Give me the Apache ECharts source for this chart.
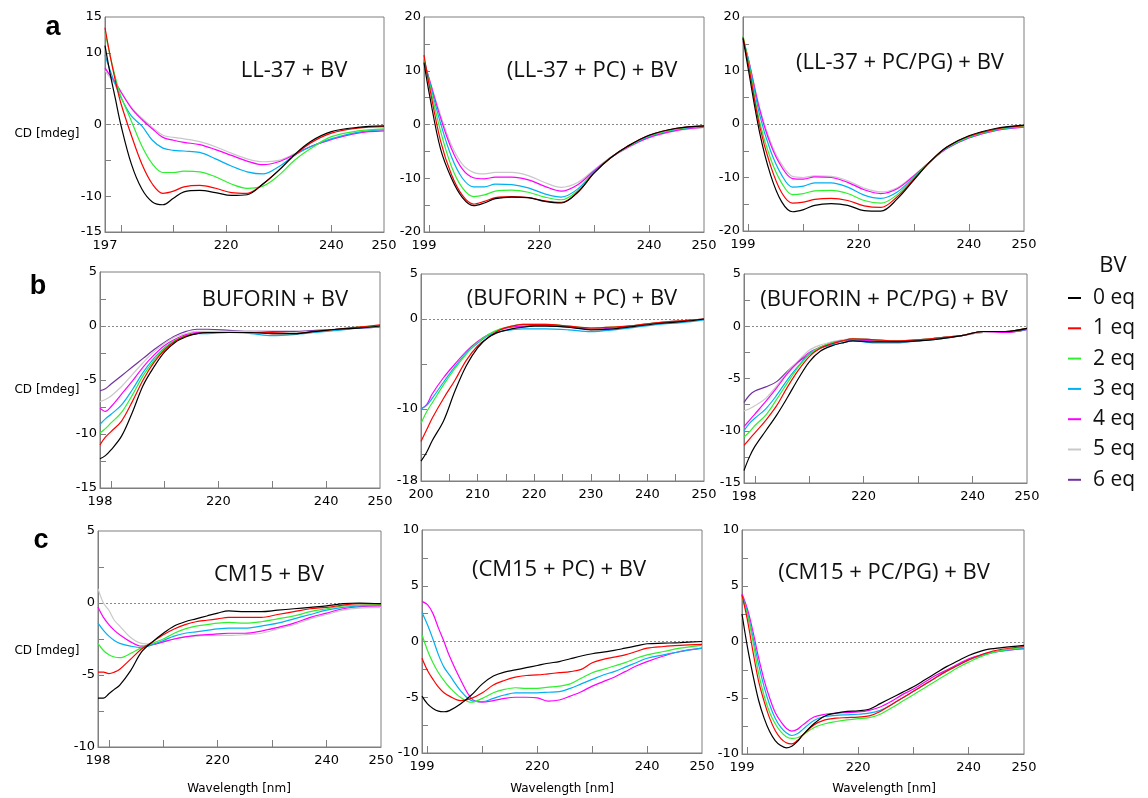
<!DOCTYPE html>
<html><head><meta charset="utf-8">
<script src="https://cdn.jsdelivr.net/npm/echarts@6/dist/echarts.min.js"></script>
<style>html,body{margin:0;padding:0;background:#fff}#c{width:1148px;height:798px}</style>
</head><body><div id="c"></div>
<script>
// ---------- DATA ----------
const eqNames = ['0 eq','1 eq','2 eq','3 eq','4 eq','5 eq','6 eq'];
const eqColors = ['#000000','#ff0000','#2ef02e','#00b0f0','#ff00ff','#c8c8c8','#7030a0'];

const panelTitles = ['LL-37 + BV','(LL-37 + PC) + BV','(LL-37 + PC/PG) + BV',
  'BUFORIN + BV','(BUFORIN + PC) + BV','(BUFORIN + PC/PG) + BV',
  'CM15 + BV','(CM15 + PC) + BV','(CM15 + PC/PG) + BV'];

// row a
const a1Wl = [197,198,199,200,202,204,206,208,210,212,215,218,221,224,227,230,233,236,240,245,250];
const a1Cd = [
  [11,7,3.5,0,-5.5,-9,-10.8,-11.2,-10.3,-9.4,-9.2,-9.5,-9.9,-9.8,-8.3,-6.4,-4.2,-2.4,-1.0,-0.4,-0.2],
  [13.5,9.5,6,3,-1.5,-5.5,-8.3,-9.6,-9.3,-8.7,-8.5,-8.9,-9.5,-9.6,-8.3,-6.4,-4.3,-2.6,-1.2,-0.5,-0.3],
  [13,9.5,6.5,4,0.5,-3,-5.5,-6.7,-6.7,-6.5,-6.6,-7.3,-8.3,-8.9,-8.6,-7.1,-5.0,-3.4,-1.7,-0.9,-0.6],
  [9.7,7.5,5.5,3.8,1.2,-0.2,-2.2,-3.3,-3.6,-3.7,-3.9,-4.8,-5.8,-6.6,-6.9,-5.9,-4.3,-3.1,-2.0,-1.1,-0.7],
  [7.9,6.8,5.8,4.6,2.3,0.7,-0.6,-1.8,-2.2,-2.5,-2.8,-3.5,-4.3,-5.1,-5.6,-5.2,-4.2,-3.1,-2.1,-1.2,-0.9],
  [7.5,6.5,5.6,4.5,2.4,0.9,-0.4,-1.5,-1.8,-2.0,-2.4,-3.1,-4.0,-4.8,-5.2,-5.0,-4.1,-3.1,-2.0,-1.1,-0.8]
];
const a2Wl = [199,200,202,204,206,208,210,212,215,218,221,224,227,230,233,236,240,245,250];
const a2Cd = [
  [11.5,5.5,-4.5,-10,-13.6,-15.1,-14.6,-13.8,-13.5,-13.6,-14.3,-14.6,-12.6,-9.0,-6.2,-4.1,-2.0,-0.7,-0.25],
  [12.9,7,-3,-9.3,-13.2,-14.8,-14.3,-13.6,-13.4,-13.6,-14.2,-14.5,-12.6,-9.0,-6.2,-4.1,-2.0,-0.7,-0.3],
  [12,7.5,-1.2,-7.8,-11.8,-13.4,-13.1,-12.4,-12.2,-12.6,-13.5,-14.0,-12.3,-8.9,-6.2,-4.2,-2.1,-0.8,-0.3],
  [12.2,8,0.3,-6,-10,-11.6,-11.6,-11.1,-11.2,-11.8,-12.9,-13.5,-12.0,-8.8,-6.2,-4.2,-2.2,-0.9,-0.4],
  [11.8,8.3,1.3,-4.5,-8.3,-9.9,-10.1,-9.8,-9.8,-10.3,-11.5,-12.4,-11.2,-8.6,-6.2,-4.3,-2.4,-1.1,-0.5],
  [11.5,8.3,1.8,-3.8,-7.4,-8.9,-9.2,-8.9,-8.9,-9.5,-10.8,-11.7,-10.8,-8.4,-6.1,-4.4,-2.5,-1.2,-0.6]
];
const a3Wl = [199,200,202,204,206,208,210,212,215,218,221,224,227,230,233,236,240,245,250];
const a3Cd = [
  [16,10,-1.5,-9.5,-14.5,-16.4,-16.0,-15.2,-14.9,-15.2,-16.2,-16.3,-14.0,-10.5,-7.0,-4.3,-2.2,-0.8,-0.2],
  [16.3,11,-0.3,-7.8,-12.8,-14.8,-14.6,-14.1,-13.9,-14.3,-15.3,-15.6,-13.6,-10.3,-7.0,-4.3,-2.3,-0.9,-0.3],
  [16.5,11.5,0.5,-6.5,-11,-13.2,-13.0,-12.5,-12.4,-13.0,-14.3,-14.8,-13.2,-10.1,-7.0,-4.4,-2.4,-1.0,-0.4],
  [16,12,1.8,-5,-9.5,-11.8,-11.6,-11.0,-11.0,-11.8,-13.3,-13.9,-12.7,-9.9,-7.0,-4.5,-2.5,-1.1,-0.5],
  [15.5,12,2.8,-3.8,-8,-10.2,-10.3,-9.9,-10.0,-10.9,-12.3,-13.0,-12.1,-9.7,-7.0,-4.6,-2.6,-1.2,-0.6],
  [15.5,12,3.1,-3.3,-7.5,-9.8,-10.0,-9.7,-9.8,-10.6,-12.0,-12.7,-11.9,-9.6,-7.0,-4.6,-2.6,-1.2,-0.6]
];

// row b
const b1Wl = [198,199,200,202,204,206,208,210,212,214,216,218,222,226,230,234,238,242,246,250];
const b1Cd = [
  [-12.3,-12.0,-11.5,-10.2,-8.0,-5.5,-3.8,-2.4,-1.5,-1.0,-0.7,-0.6,-0.6,-0.6,-0.7,-0.7,-0.5,-0.3,-0.2,0],
  [-11.0,-10.3,-9.8,-8.8,-7.0,-5.0,-3.4,-2.2,-1.4,-0.9,-0.7,-0.6,-0.6,-0.6,-0.6,-0.7,-0.5,-0.3,-0.1,0.1],
  [-9.9,-9.5,-9.0,-8.0,-6.4,-4.6,-3.2,-2.1,-1.3,-0.9,-0.7,-0.6,-0.6,-0.6,-0.7,-0.7,-0.5,-0.3,-0.1,0],
  [-9.1,-8.6,-8.2,-7.3,-5.9,-4.3,-3.0,-2.0,-1.3,-0.9,-0.7,-0.7,-0.6,-0.7,-0.9,-0.8,-0.6,-0.4,-0.2,-0.1],
  [-7.6,-7.9,-7.5,-6.3,-5.1,-3.8,-2.7,-1.8,-1.2,-0.8,-0.6,-0.6,-0.6,-0.6,-0.7,-0.7,-0.5,-0.3,-0.2,-0.1],
  [-7.0,-6.8,-6.5,-5.6,-4.5,-3.4,-2.4,-1.6,-1.0,-0.7,-0.5,-0.5,-0.5,-0.5,-0.6,-0.6,-0.5,-0.3,-0.2,-0.1],
  [-6.0,-5.8,-5.4,-4.6,-3.8,-3.0,-2.2,-1.5,-0.9,-0.5,-0.3,-0.3,-0.4,-0.5,-0.5,-0.5,-0.4,-0.3,-0.2,-0.1]
];
const b2Wl = [200,201,202,204,206,208,210,212,214,216,218,220,222,226,230,234,238,242,246,250];
const b2Cd = [
  [-15.8,-14.8,-13.5,-11.3,-8.0,-5.2,-3.2,-2.0,-1.4,-1.1,-0.9,-0.8,-0.8,-0.9,-1.2,-1.1,-0.8,-0.5,-0.3,0],
  [-13.6,-12.3,-11.0,-8.8,-6.8,-4.6,-3.0,-2.0,-1.2,-0.8,-0.6,-0.6,-0.6,-0.8,-1.0,-0.9,-0.7,-0.4,-0.2,0],
  [-11.6,-10.3,-9.3,-7.3,-5.5,-3.9,-2.6,-1.7,-1.1,-0.8,-0.6,-0.6,-0.6,-0.8,-1.0,-0.9,-0.7,-0.4,-0.2,0],
  [-10.0,-9.6,-8.8,-7.0,-5.3,-3.8,-2.7,-1.8,-1.4,-1.2,-1.1,-1.1,-1.1,-1.2,-1.4,-1.2,-0.9,-0.6,-0.4,-0.1],
  [-10.0,-9.5,-8.3,-6.5,-5.0,-3.6,-2.5,-1.7,-1.2,-0.9,-0.8,-0.7,-0.7,-0.9,-1.1,-1.0,-0.7,-0.4,-0.2,0]
];
const b3Wl = [198,199,200,202,204,206,208,210,212,214,216,218,222,226,230,234,238,242,246,250];
const b3Cd = [
  [-13.8,-12.5,-11.5,-10.0,-8.5,-6.8,-5.0,-3.4,-2.4,-1.9,-1.6,-1.4,-1.5,-1.5,-1.4,-1.2,-0.9,-0.5,-0.5,-0.2],
  [-11.4,-10.8,-10.2,-9.0,-7.6,-5.8,-4.2,-2.9,-2.1,-1.7,-1.4,-1.2,-1.3,-1.4,-1.3,-1.1,-0.9,-0.5,-0.5,-0.2],
  [-10.6,-10.1,-9.5,-8.5,-7.0,-5.4,-3.9,-2.7,-2.0,-1.6,-1.4,-1.2,-1.3,-1.4,-1.3,-1.1,-0.9,-0.5,-0.5,-0.2],
  [-10.0,-9.3,-8.8,-7.9,-6.6,-5.1,-3.8,-2.6,-2.1,-1.8,-1.6,-1.4,-1.6,-1.6,-1.4,-1.2,-0.9,-0.5,-0.5,-0.3],
  [-9.6,-9.0,-8.4,-7.2,-5.9,-4.5,-3.4,-2.5,-2.0,-1.6,-1.4,-1.3,-1.4,-1.5,-1.4,-1.1,-0.9,-0.5,-0.6,-0.3],
  [-8.1,-7.9,-7.6,-6.9,-5.7,-4.4,-3.3,-2.3,-1.8,-1.5,-1.3,-1.2,-1.3,-1.4,-1.3,-1.1,-0.9,-0.6,-0.6,-0.3],
  [-7.3,-6.6,-6.2,-5.8,-5.3,-4.3,-3.4,-2.7,-2.1,-1.7,-1.4,-1.2,-1.3,-1.4,-1.3,-1.1,-0.9,-0.6,-0.6,-0.3]
];

// row c
const c1Wl = [198,199,200,201,202,204,206,208,210,212,214,216,218,220,222,225,228,231,234,237,240,243,246,250];
const c1Cd = [
  [-6.6,-6.6,-6.3,-6.0,-5.7,-4.7,-3.4,-2.7,-2.1,-1.6,-1.3,-1.1,-0.9,-0.7,-0.55,-0.6,-0.6,-0.5,-0.4,-0.3,-0.2,-0.05,0,-0.05],
  [-4.8,-4.8,-4.9,-4.8,-4.6,-3.9,-3.2,-2.7,-2.2,-1.8,-1.5,-1.3,-1.2,-1.1,-1.0,-1.0,-1.0,-0.8,-0.6,-0.4,-0.3,-0.15,-0.05,-0.05],
  [-2.8,-3.3,-3.6,-3.75,-3.8,-3.5,-3.1,-2.8,-2.5,-2.1,-1.8,-1.6,-1.5,-1.4,-1.35,-1.4,-1.3,-1.1,-0.9,-0.6,-0.4,-0.2,-0.15,-0.1],
  [-1.4,-1.9,-2.3,-2.6,-2.8,-3.0,-3.1,-2.9,-2.6,-2.3,-2.1,-2.0,-1.9,-1.8,-1.75,-1.75,-1.6,-1.4,-1.1,-0.8,-0.5,-0.3,-0.2,-0.15],
  [-0.3,-1.0,-1.5,-1.9,-2.2,-2.7,-3.0,-2.9,-2.7,-2.5,-2.35,-2.25,-2.2,-2.15,-2.1,-2.1,-1.95,-1.7,-1.4,-1.0,-0.7,-0.4,-0.25,-0.2],
  [1.0,0.0,-0.5,-1.2,-1.6,-2.4,-2.8,-2.85,-2.7,-2.5,-2.35,-2.3,-2.25,-2.25,-2.25,-2.2,-2.1,-1.8,-1.5,-1.1,-0.8,-0.5,-0.35,-0.3]
];
const c2Wl = [199,200,201,202,203,204,206,208,210,212,214,216,218,220,222,224,226,228,230,232,234,236,238,240,243,246,250];
const c2Cd = [
  [-4.9,-5.6,-6.0,-6.25,-6.3,-6.2,-5.6,-4.8,-3.8,-3.1,-2.75,-2.55,-2.35,-2.15,-1.95,-1.8,-1.55,-1.3,-1.1,-0.95,-0.8,-0.6,-0.4,-0.2,-0.15,-0.1,0],
  [-1.5,-2.6,-3.4,-4.1,-4.6,-4.9,-5.3,-5.1,-4.6,-3.9,-3.5,-3.2,-3.05,-3.0,-2.9,-2.8,-2.7,-2.5,-1.9,-1.6,-1.4,-1.2,-0.9,-0.6,-0.45,-0.35,-0.25],
  [0.6,-0.8,-1.9,-2.8,-3.5,-4.1,-5.0,-5.45,-5.1,-4.6,-4.3,-4.15,-4.2,-4.2,-4.1,-4.0,-3.8,-3.3,-2.8,-2.5,-2.2,-1.9,-1.5,-1.2,-0.9,-0.6,-0.35],
  [2.6,1.5,0.2,-1.2,-2.3,-3.0,-4.4,-5.3,-5.4,-5.1,-4.8,-4.6,-4.6,-4.6,-4.55,-4.5,-4.2,-3.8,-3.4,-3.0,-2.7,-2.3,-1.9,-1.5,-1.2,-0.9,-0.6],
  [3.6,3.3,2.5,1.2,0.0,-1.3,-3.4,-5.1,-5.45,-5.3,-5.1,-5.0,-5.0,-5.05,-5.35,-5.25,-4.9,-4.5,-4.0,-3.6,-3.2,-2.7,-2.2,-1.8,-1.3,-0.9,-0.6]
];
const c3Wl = [199,200,201,202,203,204,205,206,207,208,209,210,212,214,216,218,220,222,224,226,228,230,232,234,236,238,240,243,246,250];
const c3Cd = [
  [2.5,-0.5,-3.0,-5.2,-6.8,-8.0,-8.8,-9.25,-9.45,-9.3,-8.9,-8.3,-7.3,-6.6,-6.35,-6.2,-6.15,-6.0,-5.5,-5.0,-4.5,-4.0,-3.4,-2.8,-2.2,-1.7,-1.2,-0.7,-0.5,-0.3],
  [4.2,1.9,-0.9,-3.5,-5.3,-6.8,-7.9,-8.6,-9.0,-9.1,-8.8,-8.3,-7.4,-6.95,-6.8,-6.75,-6.7,-6.6,-6.2,-5.6,-5.0,-4.4,-3.8,-3.2,-2.6,-2.1,-1.6,-1.0,-0.65,-0.4],
  [4.0,2.4,0.0,-2.8,-4.8,-6.3,-7.3,-8.0,-8.45,-8.6,-8.55,-8.3,-7.65,-7.3,-7.1,-6.95,-6.85,-6.75,-6.45,-5.9,-5.3,-4.7,-4.1,-3.5,-2.9,-2.3,-1.8,-1.15,-0.75,-0.45],
  [4.2,2.6,0.4,-2.0,-4.0,-5.6,-6.8,-7.6,-8.1,-8.35,-8.2,-7.8,-7.0,-6.65,-6.55,-6.5,-6.45,-6.35,-6.1,-5.6,-5.0,-4.4,-3.8,-3.2,-2.6,-2.1,-1.6,-1.1,-0.8,-0.6],
  [4.3,2.9,0.9,-1.4,-3.4,-5.0,-6.3,-7.1,-7.7,-7.95,-7.8,-7.4,-6.7,-6.45,-6.35,-6.3,-6.25,-6.1,-5.8,-5.3,-4.7,-4.2,-3.6,-3.0,-2.5,-2.0,-1.5,-1.05,-0.8,-0.6]
];

// axis values
const xTicks10 = [200,210,220,230,240];
const xTicks5 = [205,210,215,220,225,230,235,240,245];
const xLabelsA1 = [197,220,240,250];
const xLabels199 = [199,220,240,250];
const xLabels198 = [198,220,240,250];
const xLabels200 = [200,210,220,230,240,250];
const yTicksA1 = [-10,-5,0,5,10];
const yLabelsA1 = [-15,-10,0,10,15];
const yTicksA23 = [-15,-10,-5,0,5,10,15];
const yLabelsA23 = [-20,-10,0,10,20];
const yTicksB13 = [-12.5,-10,-7.5,-5,-2.5,0,2.5];
const yLabelsB13 = [-15,-10,-5,0,5];
const yTicksB2 = [-15,-10,-5,0];
const yLabelsB2 = [-18,-10,0,5];
const yTicksC1 = [-7.5,-5,-2.5,0,2.5];
const yLabelsC1 = [-10,-5,0,5];
const yTicksC23 = [-7.5,-5,-2.5,0,2.5,5,7.5];
const yLabelsC23 = [-10,-5,0,5,10];

// ---------- LAYOUT ----------
const panels = [
  {wl:a1Wl, cd:a1Cd, g:[105,17,279,215], x:[197,250], xt:xTicks10, xl:xLabelsA1, y:[-15,15], yt:yTicksA1, yl:yLabelsA1, t:[294,71]},
  {wl:a2Wl, cd:a2Cd, g:[424,17,280,215], x:[199,250], xt:xTicks10, xl:xLabels199, y:[-20,20], yt:yTicksA23, yl:yLabelsA23, t:[592,71]},
  {wl:a3Wl, cd:a3Cd, g:[743,17,281,214], x:[199,250], xt:xTicks10, xl:xLabels199, y:[-20,20], yt:yTicksA23, yl:yLabelsA23, t:[900,63]},
  {wl:b1Wl, cd:b1Cd, g:[100,272,280,216], x:[198,250], xt:xTicks10, xl:xLabels198, y:[-15,5], yt:yTicksB13, yl:yLabelsB13, t:[275,300]},
  {wl:b2Wl, cd:b2Cd, g:[421,274,283,207], x:[200,250], xt:xTicks5, xl:xLabels200, y:[-18,5], yt:yTicksB2, yl:yLabelsB2, t:[572,299]},
  {wl:b3Wl, cd:b3Cd, g:[744,274,283,209], x:[198,250], xt:xTicks10, xl:xLabels198, y:[-15,5], yt:yTicksB13, yl:yLabelsB13, t:[884,300]},
  {wl:c1Wl, cd:c1Cd, g:[98,531,283,216], x:[198,250], xt:xTicks10, xl:xLabels198, y:[-10,5], yt:yTicksC1, yl:yLabelsC1, t:[269,575]},
  {wl:c2Wl, cd:c2Cd, g:[422,530,280,223], x:[199,250], xt:xTicks10, xl:xLabels199, y:[-10,10], yt:yTicksC23, yl:yLabelsC23, t:[559,570]},
  {wl:c3Wl, cd:c3Cd, g:[742,530,282,224], x:[199,250], xt:xTicks10, xl:xLabels199, y:[-10,10], yt:yTicksC23, yl:yLabelsC23, t:[884,573]}
];

const AX = '#7f7f7f';
const tickFont = {fontFamily:'DejaVu Sans', fontSize:13, color:'#000'};
const grids = [], xAxes = [], yAxes = [], series = [], graphics = [];

panels.forEach((p, i) => {
  grids.push({left:p.g[0], top:p.g[1], width:p.g[2], height:p.g[3], show:true, borderColor:AX, borderWidth:1, backgroundColor:'transparent'});
  xAxes.push({type:'value', gridIndex:i, min:p.x[0], max:p.x[1],
    axisLine:{show:true, onZero:false, lineStyle:{color:AX, width:1}},
    axisTick:{show:true, inside:true, length:7, customValues:p.xt, lineStyle:{color:AX}},
    axisLabel:{show:true, customValues:p.xl, margin:7, ...tickFont},
    splitLine:{show:false}});
  yAxes.push({type:'value', gridIndex:i, min:p.y[0], max:p.y[1],
    axisLine:{show:true, onZero:false, lineStyle:{color:AX, width:1}},
    axisTick:{show:true, inside:true, length:6, customValues:p.yt, lineStyle:{color:AX}},
    axisLabel:{show:true, customValues:p.yl, margin:3, ...tickFont},
    splitLine:{show:false}});
  p.cd.forEach((vals, k) => {
    const s = {type:'line', name:eqNames[k], xAxisIndex:i, yAxisIndex:i,
      data:p.wl.map((w, j) => [w, vals[j]]),
      showSymbol:false, symbol:'none', smooth:0.35, clip:true,
      lineStyle:{color:eqColors[k], width:1.2}, itemStyle:{color:eqColors[k]},
      z: 10 - k};
    if (k === 0) {
      s.markLine = {silent:true, symbol:['none','none'], label:{show:false},
        lineStyle:{color:'#888', type:[2,2], width:1}, data:[{yAxis:0}], animation:false};
    }
    series.push(s);
  });
  graphics.push({type:'text', x:p.t[0], y:p.t[1], style:{text:panelTitles[i], fontFamily:'Open Sans', fontSize:22, fill:'#111', align:'center', verticalAlign:'middle'}});
});

// row letters
[['a',53,28],['b',38,287],['c',41,541]].forEach(([t,x,y]) => graphics.push({type:'text', x, y,
  style:{text:t, fontFamily:'Liberation Sans', fontWeight:'bold', fontSize:27, fill:'#000', align:'center', verticalAlign:'middle'}}));
// y-axis names
[134,390,651].forEach(y => graphics.push({type:'text', x:47, y,
  style:{text:'CD [mdeg]', fontFamily:'DejaVu Sans', fontSize:12, fill:'#000', align:'center', verticalAlign:'middle'}}));
// x-axis names
[239,562,884].forEach(x => graphics.push({type:'text', x, y:789,
  style:{text:'Wavelength [nm]', fontFamily:'DejaVu Sans', fontSize:12, fill:'#000', align:'center', verticalAlign:'middle'}}));
// legend title
graphics.push({type:'text', x:1113, y:266, style:{text:'BV', fontFamily:'Open Sans', fontSize:22, fill:'#111', align:'center', verticalAlign:'middle'}});

const chart = echarts.init(document.getElementById('c'), null, {renderer:'canvas'});
chart.setOption({
  animation:false,
  backgroundColor:'#fff',
  grid:grids, xAxis:xAxes, yAxis:yAxes, series,
  legend:{data:eqNames, orient:'vertical', left:1068, top:287, icon:'rect', itemWidth:13, itemHeight:2,
    itemGap:8.3, selectedMode:false, padding:0,
    textStyle:{fontFamily:'Open Sans', fontSize:21, color:'#111', lineHeight:22, padding:[0,0,0,7]}},
  graphic:graphics
});
</script></body></html>
